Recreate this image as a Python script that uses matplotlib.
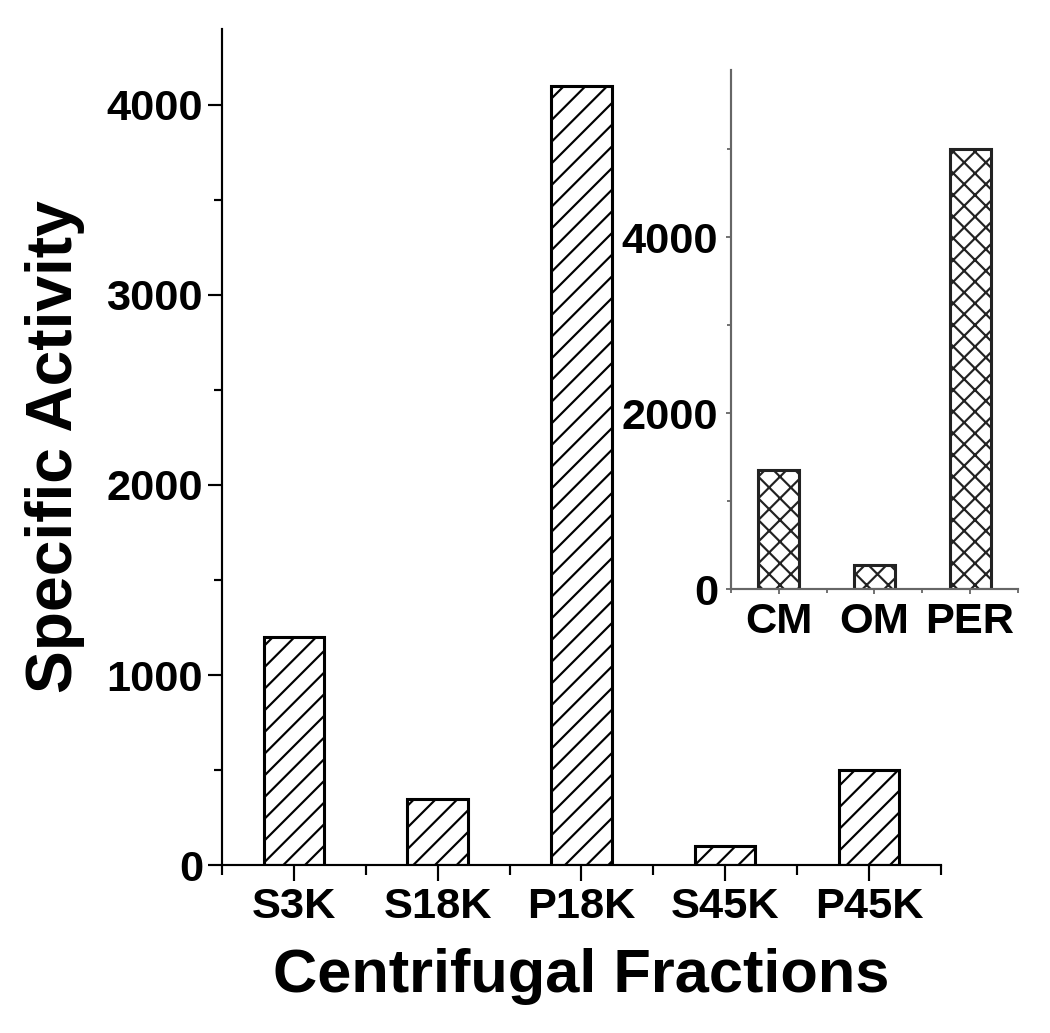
import matplotlib
matplotlib.use('Agg')
import matplotlib.pyplot as plt
import numpy as np

# main panel: centrifugal fractions
fractions = ['S3K', 'S18K', 'P18K', 'S45K', 'P45K']
activity = [1200, 350, 4100, 100, 500]

# inset: membrane fractions
membranes = ['CM', 'OM', 'PER']
membrane_activity = [1350, 270, 5000]

plt.rcParams['font.family'] = ['Liberation Sans', 'DejaVu Sans']
plt.rcParams['font.weight'] = 'bold'
plt.rcParams['hatch.linewidth'] = 1.2
plt.rcParams['hatch.color'] = 'black'

DPI = 130
fig = plt.figure(figsize=(1050 / DPI, 1033 / DPI), dpi=DPI)

# --- main axes ---
ax = fig.add_axes([0.2114, 0.1626, 0.6846, 0.8094])
x = np.arange(len(fractions))
ax.bar(x, activity, width=0.42, color='white', edgecolor='black',
       hatch='//', linewidth=1.7)
ax.set_xlim(-0.5, len(fractions) - 0.5)
ax.set_ylim(0, 4400)
ax.set_xticks(x)
ax.set_xticklabels(fractions)
ax.set_xticks(np.arange(-0.5, len(fractions), 1), minor=True)
ax.set_yticks([0, 1000, 2000, 3000, 4000])
ax.set_yticks([500, 1500, 2500, 3500], minor=True)
for s in ['top', 'right']:
    ax.spines[s].set_visible(False)
for s in ['left', 'bottom']:
    ax.spines[s].set_linewidth(1.2)
ax.tick_params(axis='both', which='major', labelsize=24, width=1.2)
ax.tick_params(axis='y', which='major', length=7.5, pad=3)
ax.tick_params(axis='y', which='minor', length=4.5, width=1.2)
ax.tick_params(axis='x', which='major', length=9, pad=3)
ax.tick_params(axis='x', which='minor', length=5.5, width=1.2)
ax.set_xlabel('Centrifugal Fractions', fontsize=34, fontweight='bold', labelpad=12)
ax.set_ylabel('Specific Activity', fontsize=35.5, fontweight='bold', labelpad=12)

# --- inset axes ---
ins = fig.add_axes([0.696, 0.4298, 0.2735, 0.5024])
ins.set_facecolor('none')
xi = np.arange(len(membranes))
ins.bar(xi, membrane_activity, width=0.43, color='white', edgecolor='#222222',
        hatch='xx', linewidth=1.7)
ins.set_xlim(-0.5, len(membranes) - 0.5)
ins.set_ylim(0, 5900)
ins.set_xticks(xi)
ins.set_xticklabels(membranes)
ins.set_xticks(np.arange(-0.5, len(membranes), 1), minor=True)
ins.set_yticks([0, 2000, 4000])
ins.set_yticks([1000, 3000, 5000], minor=True)
for s in ['top', 'right']:
    ins.spines[s].set_visible(False)
for s in ['left', 'bottom']:
    ins.spines[s].set_linewidth(1.2)
    ins.spines[s].set_color('#666666')
ins.tick_params(axis='both', which='major', labelsize=24, length=3,
                width=1, color='#666666', pad=4)
ins.tick_params(axis='both', which='minor', length=2, width=1, color='#666666')

fig.savefig('out.png', dpi=DPI)
